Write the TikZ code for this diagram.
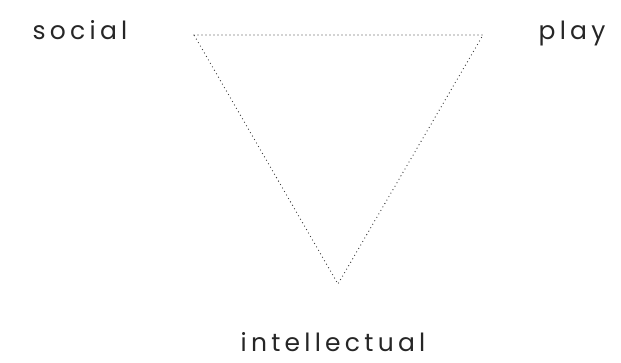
\documentclass[tikz,border=0pt]{standalone}
\usepackage{fontspec}
\setmainfont{Poppins}
\usetikzlibrary{positioning}

\begin{document}
\begin{tikzpicture}[
    x=1pt, y=1pt,
    label/.style={anchor=base, inner sep=0pt, text=black!85, font=\fontsize{25}{28}\selectfont\addfontfeatures{LetterSpace=17}},
    edge/.style={line width=1.3pt, line cap=round, dash pattern=on 0pt off 4pt, black!75}
]
\useasboundingbox (0,0) rectangle (621,363);

% Corners
\coordinate (left) at (194,328);
\coordinate (right) at (483,328);
\coordinate (bottom) at (338,79);

% Labels
\node[label] (social) at (80,323) {social};
\node[label] (play) at (572,323) {play};
\node[label] (intellectual) at (333,11) {intellectual};

% Triangle
\draw[edge] (left) -- (right) -- (bottom) -- cycle;

\end{tikzpicture}
\end{document}
